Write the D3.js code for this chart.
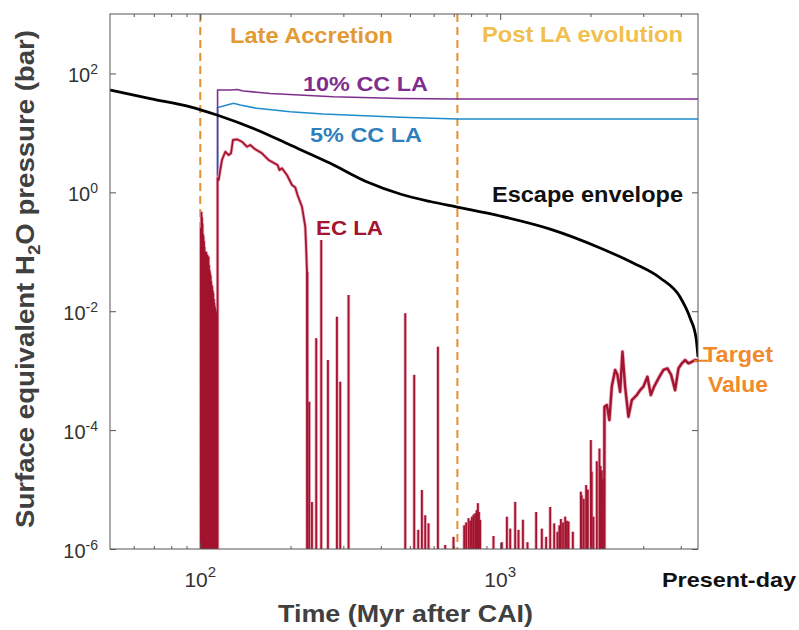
<!DOCTYPE html>
<html>
<head>
<meta charset="utf-8">
<script src="https://cdn.jsdelivr.net/npm/d3@7"></script>
<style>
  body { margin: 0; background: #fff; }
  svg { display: block; }
  text { font-family: "Liberation Sans", Arial, Helvetica, sans-serif; }
</style>
</head>
<body>
<div id="chart"></div>
<script>
// ---- data (time in Myr after CAI, pressure in bar) ----
const FLOOR = 1e-7; // "below the axis" marker

const escapeEnvelope = [
  [50, 52.6], [68.1, 37.8], [92.6, 27.5], [113.7, 20.0], [154.6, 11.2], [199.5, 6.25],
  [271.3, 3.08], [360.4, 1.49], [464.2, 0.937], [584.4, 0.701], [719, 0.566],
  [1000, 0.400], [1468, 0.241], [2154, 0.116], [2776, 0.0647], [3415, 0.0362],
  [3981, 0.0173], [4298, 0.0077], [4501, 0.0035], [4567, 0.0017]
];

const cc10 = [
  [114.2, FLOOR], [114.2, 52.6], [125.9, 52.6], [132.9, 53.7], [139.1, 50.7],
  [171.1, 46.0], [277.5, 40.6], [464.2, 37.8], [719, 37.1], [4567, 37.1]
];

const cc5 = [
  [114.2, FLOOR], [114.2, 26.7], [121.2, 28.9], [129.1, 31.5], [135.9, 29.4],
  [154.6, 25.9], [199.5, 22.7], [256.9, 20.8], [464.2, 18.3], [719, 17.1], [4567, 17.1]
];

// EC LA: continuous stretches
const ecHump = [
  [114.2, FLOOR], [114.2, 1.74], [115.1, 1.61], [118.1, 3.5], [121.2, 4.82], [124.3, 4.24],
  [126.6, 4.53], [128.5, 7.59], [132.6, 7.8], [137.7, 7.11], [143.1, 5.85], [146.8, 6.25],
  [152.5, 5.29], [160.6, 4.53], [168.9, 3.5], [181.0, 2.88], [183.8, 2.37], [187.2, 2.54],
  [194.5, 1.96], [202.2, 1.33], [207.4, 1.21], [211.0, 0.90], [218.3, 0.573], [223.9, 0.264],
  [225.6, 0.107], [226.9, 0.044], [227.4, FLOOR]
];

const ecLate = [
  [2222, FLOOR], [2227, 2.47e-4], [2268, 2.64e-4], [2313, 1.48e-4], [2356, 5.4e-4],
  [2417, 1.03e-3], [2460, 8.5e-4], [2512, 4.4e-4], [2557, 2.08e-3], [2610, 5.4e-4],
  [2677, 1.68e-4], [2748, 3.2e-4], [2856, 3.9e-4], [2929, 4.7e-4], [3004, 5.4e-4],
  [3097, 7.9e-4], [3179, 3.9e-4], [3261, 5.4e-4], [3371, 7.4e-4], [3502, 1.03e-3],
  [3612, 1.09e-3], [3715, 8.5e-4], [3831, 4.7e-4], [3930, 1.09e-3], [4034, 1.33e-3],
  [4138, 1.51e-3], [4244, 1.33e-3], [4355, 1.41e-3], [4467, 1.51e-3], [4567, 1.47e-3]
];

// EC LA: isolated impact spikes (time, peak pressure)
const ecSpikes = [
  [100.4, 0.25], [100.9, 0.47], [101.3, 0.38], [101.7, 0.3], [102.1, 0.2], [102.5, 0.18],
  [102.9, 0.15], [103.3, 0.12], [103.8, 0.10], [104.2, 0.09], [104.7, 0.1], [105.1, 0.08],
  [105.6, 0.09], [106.0, 0.07], [106.5, 0.083], [106.9, 0.06], [107.4, 0.05], [107.8, 0.045],
  [108.3, 0.04], [108.7, 0.032], [109.2, 0.028], [109.6, 0.026], [110.1, 0.022], [110.5, 0.02],
  [111.0, 0.016], [111.4, 0.0137], [111.9, 0.012], [112.3, 0.011], [112.8, 0.01], [113.2, 0.009],
  [113.7, 0.008],
  [227.6, 0.046], [230.9, 3.0e-4], [235.7, 6.2e-6], [243.6, 3.5e-3], [253.1, 0.158],
  [266.5, 1.51e-3], [285.5, 8.1e-3], [292.8, 6.5e-4], [312.2, 0.0187],
  [482.5, 9.2e-3], [516.9, 8.5e-4], [533, 2.1e-6], [548.3, 9.8e-6], [562.3, 3.7e-6],
  [576.8, 2.7e-6], [620, 2.53e-3], [655.6, 1.17e-6], [698.8, 1.6e-6], [758.6, 2.5e-6],
  [770, 2.8e-6], [784.3, 3.3e-6], [795, 3.0e-6], [805, 3.5e-6], [815, 3.8e-6], [825.4, 4.0e-6],
  [835, 4.5e-6], [842.7, 5.9e-6], [850, 4.2e-6], [857.7, 3.1e-6], [949.9, 1.65e-6],
  [1013, 1.3e-6], [1053, 3.5e-6], [1080, 2.2e-6], [1122, 6.2e-6], [1151, 2.1e-6],
  [1191, 3.1e-6], [1233, 1.3e-6], [1318, 4.2e-6], [1377, 2.2e-6], [1423, 1.6e-6],
  [1468, 5.1e-6], [1514, 2.7e-6], [1552, 1.95e-6], [1575, 2.5e-6], [1594, 3.2e-6],
  [1620, 2.8e-6], [1647, 3.5e-6], [1670, 3.0e-6], [1690, 2.9e-6], [1747, 1.95e-6],
  [1858, 9.2e-6], [1870, 8e-6], [1900, 7e-6], [1935, 1.19e-5], [1960, 1.0e-5],
  [2006, 6.8e-5], [2020, 2.0e-5], [2046, 3.5e-6], [2100, 3.0e-5], [2143, 4.9e-5],
  [2160, 2.5e-5], [2183, 2.1e-5], [2200, 1.5e-5]
];

const phaseBoundaries = [100, 720];
const targetValue = 1.47e-3;
const presentDay = 4567;

const xMajorTicks = [100, 1000];
const xMinorTicks = [60, 70, 80, 90, 200, 300, 400, 500, 600, 700, 800, 900, 2000, 3000, 4000];
const yTicks = [1e-6, 1e-4, 1e-2, 1, 1e2];

// ---- layout ----
const width = 799, height = 630;
const plot = { left: 110, right: 698, top: 14, bottom: 549 };

const x = d3.scaleLog().domain([50, presentDay]).range([plot.left, plot.right]);
const y = d3.scaleLog().domain([1e-6, 1e3]).range([plot.bottom, plot.top]);

const svg = d3.select("#chart").append("svg")
  .attr("width", width)
  .attr("height", height);

svg.append("clipPath").attr("id", "clip")
  .append("rect")
  .attr("x", plot.left).attr("y", plot.top)
  .attr("width", plot.right - plot.left)
  .attr("height", plot.bottom - plot.top);

const g = svg.append("g").attr("clip-path", "url(#clip)");

// phase boundaries
g.selectAll(".phase")
  .data(phaseBoundaries)
  .enter().append("line")
  .attr("x1", d => x(d)).attr("x2", d => x(d))
  .attr("y1", plot.top).attr("y2", plot.bottom)
  .attr("stroke", "#e3922f")
  .attr("stroke-width", 2)
  .attr("stroke-dasharray", "8,5");

const line = d3.line()
  .x(d => x(d[0]))
  .y(d => y(Math.max(d[1], 1e-8)));

// CC lines
g.append("path").datum(cc5)
  .attr("fill", "none").attr("stroke", "#1f8ccc").attr("stroke-width", 1.6)
  .attr("d", line);
g.append("path").datum(cc10)
  .attr("fill", "none").attr("stroke", "#7e2f8e").attr("stroke-width", 1.6)
  .attr("d", line);

// EC line: soft pink halo first, then the crimson stroke
function drawEC(color, extra) {
  g.append("g").selectAll("line")
    .data(ecSpikes)
    .enter().append("line")
    .attr("x1", d => x(d[0])).attr("x2", d => x(d[0]))
    .attr("y1", y(FLOOR)).attr("y2", d => y(d[1]))
    .attr("stroke", color)
    .attr("stroke-width", 1.8 + extra);

  g.append("path").datum(ecHump)
    .attr("fill", "none").attr("stroke", color).attr("stroke-width", 1.8 + extra)
    .attr("stroke-linejoin", "round")
    .attr("d", line);
  g.append("path").datum(ecLate)
    .attr("fill", "none").attr("stroke", color).attr("stroke-width", 2.4 + extra)
    .attr("stroke-linejoin", "round")
    .attr("d", line);
}
drawEC("#eeb0c0", 1.6);
drawEC("#a2142f", 0);

// escape envelope
g.append("path").datum(escapeEnvelope)
  .attr("fill", "none").attr("stroke", "#000").attr("stroke-width", 2.8)
  .attr("d", d3.line().x(d => x(d[0])).y(d => y(d[1])).curve(d3.curveMonotoneX));

// target value marker
svg.append("line")
  .attr("x1", x(presentDay) - 4).attr("x2", x(presentDay) + 10)
  .attr("y1", y(targetValue)).attr("y2", y(targetValue))
  .attr("stroke", "#f07f22").attr("stroke-width", 2);

// ---- axes (box with inward ticks) ----
const axisColor = "#555";
svg.append("rect")
  .attr("x", plot.left).attr("y", plot.top)
  .attr("width", plot.right - plot.left)
  .attr("height", plot.bottom - plot.top)
  .attr("fill", "none").attr("stroke", axisColor).attr("stroke-width", 1);

function styleAxis(sel) {
  sel.select(".domain").remove();
  sel.selectAll("line").attr("stroke", axisColor);
  sel.selectAll("text").remove();
}

[[d3.axisBottom, plot.bottom, -6, xMajorTicks], [d3.axisBottom, plot.bottom, -3, xMinorTicks],
 [d3.axisTop, plot.top, -6, xMajorTicks], [d3.axisTop, plot.top, -3, xMinorTicks]]
  .forEach(([ax, pos, size, vals]) => {
    svg.append("g")
      .attr("transform", `translate(0,${pos})`)
      .call(ax(x).tickValues(vals).tickSize(size))
      .call(styleAxis);
  });

[[d3.axisLeft, plot.left], [d3.axisRight, plot.right]].forEach(([ax, pos]) => {
  svg.append("g")
    .attr("transform", `translate(${pos},0)`)
    .call(ax(y).tickValues(yTicks).tickSize(-6))
    .call(styleAxis);
});

// tick labels with superscripts
const tickColor = "#333";
xMajorTicks.forEach(v => {
  const t = svg.append("text")
    .attr("x", x(v)).attr("y", 587)
    .attr("text-anchor", "middle")
    .attr("font-size", 21).attr("fill", tickColor);
  t.append("tspan").text("10");
  t.append("tspan").attr("font-size", 15).attr("dy", -10).text(Math.round(Math.log10(v)));
});

yTicks.forEach(v => {
  const t = svg.append("text")
    .attr("x", 98).attr("y", y(v) + 9)
    .attr("text-anchor", "end")
    .attr("font-size", 20).attr("fill", tickColor);
  t.append("tspan").text("10");
  t.append("tspan").attr("font-size", 14).attr("dy", -8).text(Math.round(Math.log10(v)));
});

// axis titles
svg.append("text")
  .attr("x", 278).attr("y", 622)
  .attr("font-size", 23).attr("font-weight", "bold").attr("fill", "#404040")
  .attr("textLength", 255).attr("lengthAdjust", "spacingAndGlyphs")
  .text("Time (Myr after CAI)");

const yt = svg.append("text")
  .attr("transform", "translate(34,528) rotate(-90)")
  .attr("font-size", 25).attr("font-weight", "bold").attr("fill", "#404040")
  .attr("textLength", 498).attr("lengthAdjust", "spacingAndGlyphs");
yt.append("tspan").text("Surface equivalent H");
yt.append("tspan").attr("font-size", 17).attr("dy", 6).text("2");
yt.append("tspan").attr("dy", -6).text("O pressure (bar)");

// annotations
const labels = [
  { text: "Late Accretion", x: 230, y: 43, w: 163, size: 22, color: "#e49a34" },
  { text: "Post LA evolution", x: 482, y: 42, w: 201, size: 22, color: "#f0bf4c" },
  { text: "10% CC LA", x: 303, y: 91, w: 125, size: 20, color: "#7e2f8e" },
  { text: "5% CC LA", x: 310, y: 142, w: 112, size: 20, color: "#2f7fbd" },
  { text: "EC LA", x: 316, y: 235, w: 67, size: 20, color: "#a2142f" },
  { text: "Escape envelope", x: 492, y: 202, w: 191, size: 22, color: "#111" },
  { text: "Target", x: 703, y: 362, w: 70, size: 22, color: "#f08a2a" },
  { text: "Value", x: 708, y: 392, w: 60, size: 22, color: "#f08a2a" },
  { text: "Present-day", x: 662, y: 587, w: 134, size: 21, color: "#111" }
];

svg.selectAll(".label")
  .data(labels)
  .enter().append("text")
  .attr("x", d => d.x).attr("y", d => d.y)
  .attr("font-size", d => d.size)
  .attr("font-weight", "bold")
  .attr("fill", d => d.color)
  .attr("textLength", d => d.w)
  .attr("lengthAdjust", "spacingAndGlyphs")
  .text(d => d.text);
</script>
</body>
</html>
